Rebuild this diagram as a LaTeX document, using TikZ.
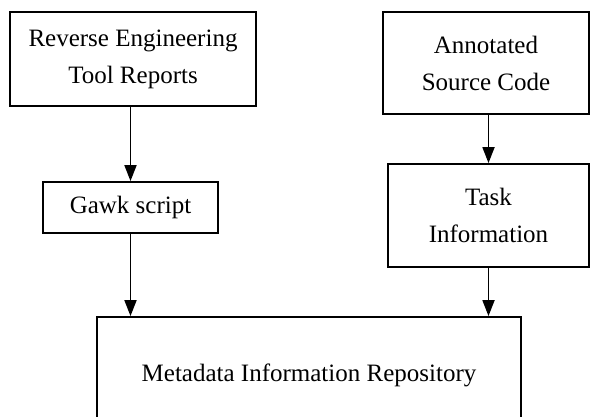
\documentclass[tikz,border=0pt]{standalone}
\usepackage{fontspec}
\setmainfont{Liberation Serif}
\usetikzlibrary{arrows.meta}
\begin{document}
\begin{tikzpicture}[x=1pt,y=-1pt,
  box/.style={draw=black, line width=1.8pt, inner sep=0pt, align=center,
    font=\fontsize{25}{37}\selectfont},
  flow/.style={line width=1.8pt, -{Triangle[width=12pt,length=16pt]}}
]
  % page area; the repository box runs past the lower edge
  \clip (0,0) rectangle (592,417);
  \fill[white] (0,0) rectangle (592,417);

  \node[box, minimum width=246pt, minimum height=94pt]  (rev)  at (133,59)    {Reverse Engineering\\Tool Reports};
  \node[box, minimum width=206pt, minimum height=102pt] (src)  at (486,63)    {Annotated\\Source Code};
  \node[box, minimum width=175pt, minimum height=51pt]  (gawk) at (130.5,207.5) {Gawk script};
  \node[box, minimum width=201pt, minimum height=103pt] (task) at (488.5,215.5) {Task\\Information};
  \node[box, minimum width=424pt, minimum height=116pt] (repo) at (309,375)   {Metadata Information Repository};

  \draw[flow] (rev.south -| gawk) -- (gawk.north);
  \draw[flow] (gawk.south) -- (gawk.south |- repo.north);
  \draw[flow] (src.south -| task) -- (task.north);
  \draw[flow] (task.south) -- (task.south |- repo.north);
\end{tikzpicture}
\end{document}
